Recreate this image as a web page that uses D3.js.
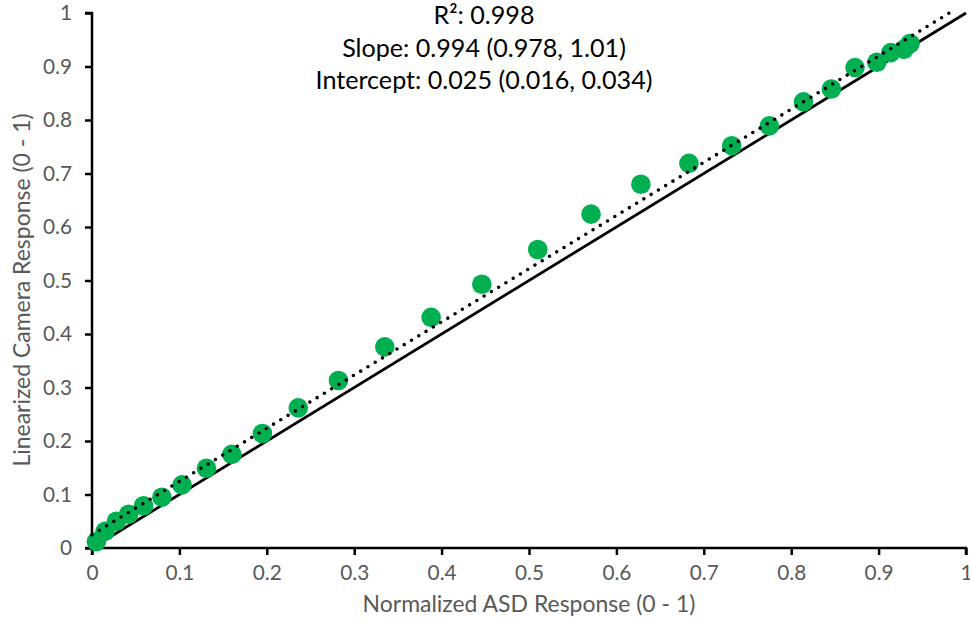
<!DOCTYPE html>
<html>
<head>
<meta charset="utf-8">
<script src="https://cdn.jsdelivr.net/npm/d3@7"></script>
<style>
  body { margin: 0; background: #fff; }
  text { font-family: Lato, "Liberation Sans", sans-serif; }
  .tick text { fill: #595959; }
  .axisTitle { fill: #595959; }
  .stats { fill: #000; }
</style>
</head>
<body>
<div class="chart"></div>
<script>
var svgWidth = 970;
var svgHeight = 621;

var margin = { top: 13, right: 4, bottom: 73, left: 92 };
var width = svgWidth - margin.left - margin.right;
var height = svgHeight - margin.top - margin.bottom;

// data
var asdResponse = [0.005, 0.015, 0.028, 0.042, 0.059, 0.080, 0.103, 0.131, 0.160, 0.195,
  0.236, 0.282, 0.335, 0.388, 0.446, 0.510, 0.571, 0.628, 0.683, 0.732,
  0.775, 0.814, 0.846, 0.873, 0.898, 0.914, 0.929, 0.936];
var cameraResponse = [0.012, 0.031, 0.050, 0.063, 0.079, 0.095, 0.118, 0.149, 0.175, 0.214,
  0.262, 0.313, 0.376, 0.431, 0.493, 0.558, 0.624, 0.680, 0.719, 0.752,
  0.789, 0.834, 0.858, 0.898, 0.908, 0.926, 0.932, 0.943];
var fitSlope = 0.994;
var fitIntercept = 0.025;
var statLines = ["R\u00b2: 0.998", "Slope: 0.994 (0.978, 1.01)", "Intercept: 0.025 (0.016, 0.034)"];
var tickValues = [0, 0.1, 0.2, 0.3, 0.4, 0.5, 0.6, 0.7, 0.8, 0.9, 1];

var data = asdResponse.map((x, i) => ({ x: x, y: cameraResponse[i] }));

var svg = d3.select(".chart")
  .append("svg")
  .attr("width", svgWidth)
  .attr("height", svgHeight);

// pick a font size so a sample string comes out at the width seen in the picture
function fitSize(sample, targetWidth) {
  let t = svg.append("text").style("font-size", "100px").text(sample);
  let w = t.node().getComputedTextLength();
  t.remove();
  return 100 * targetWidth / w;
}
var tickSize = fitSize("0.8", 29);
var titleSize = fitSize("Normalized ASD Response (0 - 1)", 333);
var statSize = fitSize("Intercept: 0.025 (0.016, 0.034)", 337);

var chartGroup = svg.append("g")
  .attr("transform", `translate(${margin.left}, ${margin.top})`);

var xScale = d3.scaleLinear().domain([0, 1]).range([0, width]);
var yScale = d3.scaleLinear().domain([0, 1]).range([height, 0]);

var fmt = d => d === 0 || d === 1 ? String(d) : d3.format(".1f")(d);

// axes
var bottomAxis = d3.axisBottom(xScale).tickValues(tickValues).tickFormat(fmt).tickSize(7).tickPadding(10);
var leftAxis = d3.axisLeft(yScale).tickValues(tickValues).tickFormat(fmt).tickSize(7).tickPadding(13);

var xAxis = chartGroup.append("g").attr("transform", `translate(0,${height})`).call(bottomAxis);
var yAxis = chartGroup.append("g").call(leftAxis);

[xAxis, yAxis].forEach(a => {
  a.attr("font-family", null).attr("font-size", null);
  a.selectAll(".tick text").style("font-size", tickSize + "px");
  a.select(".domain").attr("stroke", "#000").attr("stroke-width", 2.5);
  a.selectAll(".tick line").attr("stroke", "#000").attr("stroke-width", 2.5);
});
xAxis.select(".domain").attr("d", `M0,7V0H${width}V7`);
yAxis.select(".domain").attr("d", `M-7,${height}H0V0H-7`);

var line = d3.line().x(d => xScale(d[0])).y(d => yScale(d[1]));

// 1:1 line
chartGroup.append("path")
  .datum([[0, 0], [1, 1]])
  .attr("d", line)
  .attr("fill", "none")
  .attr("stroke", "#000")
  .attr("stroke-width", 2.8);

// points
chartGroup.append("g").selectAll("circle")
  .data(data)
  .enter()
  .append("circle")
  .attr("cx", d => xScale(d.x))
  .attr("cy", d => yScale(d.y))
  .attr("r", 9.8)
  .attr("fill", "#00b050");

// fitted line, dotted, stops at the top of the plot
var xTop = (1 - fitIntercept) / fitSlope;
chartGroup.append("path")
  .datum([[0, fitIntercept], [xTop, 1]])
  .attr("d", line)
  .attr("fill", "none")
  .attr("stroke", "#000")
  .attr("stroke-width", 3.6)
  .attr("stroke-linecap", "round")
  .attr("stroke-dasharray", "0 8.5");

// stats text
chartGroup.append("g").selectAll("text")
  .data(statLines)
  .enter()
  .append("text")
  .attr("class", "stats")
  .style("font-size", statSize + "px")
  .attr("x", 392)
  .attr("y", (d, i) => 11 + i * 32.5)
  .attr("text-anchor", "middle")
  .text(d => d);

// axis titles
chartGroup.append("text")
  .attr("class", "axisTitle")
  .style("font-size", titleSize + "px")
  .attr("x", 437)
  .attr("y", height + 64)
  .attr("text-anchor", "middle")
  .text("Normalized ASD Response (0 - 1)");

chartGroup.append("text")
  .attr("class", "axisTitle")
  .style("font-size", titleSize + "px")
  .attr("transform", "rotate(-90)")
  .attr("x", -(290 - margin.top))
  .attr("y", 30 - margin.left)
  .attr("text-anchor", "middle")
  .text("Linearized Camera Response (0 - 1)");
</script>
</body>
</html>
